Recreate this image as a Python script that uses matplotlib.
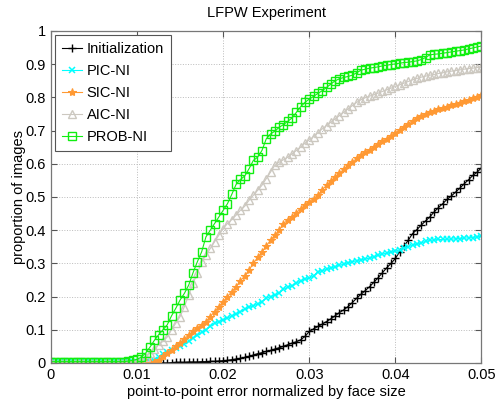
import numpy as np
import matplotlib
matplotlib.use("Agg")
import matplotlib.pyplot as plt
from matplotlib.ticker import FuncFormatter

plt.rcParams["font.family"] = ["Liberation Sans", "DejaVu Sans"]

# error thresholds: 0 .. 0.05 in steps of 0.0005
err = np.arange(101) * 0.0005

init = [0.0] * 28 + [
    0.001, 0.002, 0.002, 0.002, 0.003, 0.003, 0.003, 0.004, 0.004, 0.005,
    0.005, 0.006, 0.007, 0.008, 0.010, 0.012, 0.014, 0.017, 0.020, 0.024,
    0.028, 0.031, 0.035, 0.038, 0.042, 0.046, 0.050, 0.055, 0.060, 0.064,
    0.070, 0.080, 0.095, 0.103, 0.110, 0.117, 0.125, 0.133, 0.142, 0.152,
    0.160, 0.170, 0.182, 0.195, 0.207, 0.218, 0.230, 0.243, 0.257, 0.272,
    0.287, 0.300, 0.315, 0.335, 0.352, 0.370, 0.390, 0.402, 0.415, 0.428,
    0.440, 0.455, 0.468, 0.480, 0.493, 0.503, 0.515, 0.527, 0.540, 0.552,
    0.565, 0.575, 0.588]

pic_ni = [0.002] * 24 + [
    0.008, 0.018, 0.026, 0.032, 0.038, 0.044, 0.050, 0.057, 0.065, 0.075,
    0.083, 0.092, 0.100, 0.110, 0.120, 0.125, 0.130, 0.135, 0.142, 0.148,
    0.155, 0.162, 0.168, 0.172, 0.178, 0.185, 0.195, 0.200, 0.205, 0.210,
    0.222, 0.228, 0.233, 0.240, 0.248, 0.252, 0.256, 0.262, 0.275, 0.278,
    0.282, 0.286, 0.290, 0.294, 0.298, 0.302, 0.305, 0.308, 0.311, 0.313,
    0.316, 0.320, 0.324, 0.328, 0.331, 0.334, 0.337, 0.341, 0.345, 0.350,
    0.355, 0.358, 0.362, 0.366, 0.369, 0.371, 0.372, 0.372, 0.373, 0.373,
    0.374, 0.375, 0.376, 0.377, 0.378, 0.380, 0.382]

sic_ni = [0.002] * 24 + [
    0.004, 0.010, 0.020, 0.030, 0.040, 0.050, 0.060, 0.072, 0.085, 0.095,
    0.105, 0.115, 0.125, 0.140, 0.155, 0.170, 0.185, 0.200, 0.215, 0.230,
    0.248, 0.262, 0.280, 0.300, 0.318, 0.335, 0.352, 0.370, 0.385, 0.400,
    0.420, 0.430, 0.440, 0.452, 0.465, 0.475, 0.485, 0.495, 0.505, 0.522,
    0.535, 0.548, 0.560, 0.572, 0.583, 0.595, 0.605, 0.616, 0.626, 0.635,
    0.643, 0.651, 0.660, 0.668, 0.676, 0.684, 0.692, 0.702, 0.712, 0.721,
    0.730, 0.738, 0.745, 0.750, 0.756, 0.760, 0.764, 0.768, 0.772, 0.776,
    0.780, 0.784, 0.788, 0.793, 0.798, 0.802, 0.806]

aic_ni = [0.003] * 21 + [
    0.008, 0.018, 0.030, 0.043, 0.055, 0.065, 0.078, 0.100, 0.120, 0.140,
    0.170, 0.205, 0.240, 0.270, 0.305, 0.325, 0.345, 0.365, 0.385, 0.405,
    0.420, 0.432, 0.445, 0.460, 0.472, 0.490, 0.505, 0.520, 0.535, 0.555,
    0.575, 0.595, 0.605, 0.612, 0.620, 0.630, 0.640, 0.650, 0.662, 0.672,
    0.682, 0.693, 0.705, 0.715, 0.725, 0.735, 0.745, 0.755, 0.765, 0.775,
    0.785, 0.793, 0.799, 0.804, 0.808, 0.813, 0.818, 0.823, 0.828, 0.833,
    0.838, 0.843, 0.848, 0.853, 0.857, 0.861, 0.864, 0.867, 0.869, 0.872,
    0.874, 0.877, 0.879, 0.881, 0.883, 0.885, 0.887, 0.888, 0.890, 0.891]

prob_ni = [0.004] * 18 + [
    0.006, 0.008, 0.011, 0.018, 0.030, 0.048, 0.068, 0.085, 0.100, 0.115,
    0.142, 0.165, 0.190, 0.210, 0.235, 0.272, 0.305, 0.335, 0.380, 0.400,
    0.420, 0.440, 0.460, 0.480, 0.508, 0.538, 0.553, 0.563, 0.585, 0.610,
    0.620, 0.640, 0.675, 0.690, 0.698, 0.710, 0.718, 0.728, 0.738, 0.755,
    0.772, 0.785, 0.795, 0.803, 0.812, 0.820, 0.830, 0.840, 0.850, 0.856,
    0.860, 0.863, 0.867, 0.874, 0.882, 0.885, 0.888, 0.890, 0.892, 0.895,
    0.897, 0.899, 0.901, 0.903, 0.905, 0.906, 0.908, 0.910, 0.914, 0.920,
    0.928, 0.930, 0.931, 0.933, 0.935, 0.937, 0.939, 0.941, 0.943, 0.946,
    0.949, 0.952, 0.955]

fig = plt.figure(figsize=(4.95, 4.0), dpi=100)
ax = fig.add_axes([0.103, 0.0925, 0.8697, 0.83])

ax.plot(err, init, color="black", marker="+", ms=6, mew=1.0, lw=0.8, label="Initialization")
ax.plot(err, pic_ni, color="#00FFFF", marker="x", ms=4.5, mew=1.1, lw=0.8, label="PIC-NI")
ax.plot(err, sic_ni, color="#FF9933", marker="*", ms=6, mew=0.8, lw=0.8, label="SIC-NI")
ax.plot(err, aic_ni, color="#CCC8C0", marker="^", ms=6, mfc="none", mew=1.0, lw=0.8, label="AIC-NI")
ax.plot(err, prob_ni, color="#11EE11", marker="s", ms=5.5, mfc="none", mew=1.0, lw=0.8, label="PROB-NI")

ax.set_xlim(0, 0.05)
ax.set_ylim(0, 1)
ax.set_xticks(np.arange(0, 0.051, 0.01))
ax.set_yticks(np.arange(0, 1.01, 0.1))
ax.xaxis.set_major_formatter(FuncFormatter(lambda v, p: "%g" % round(v, 3)))
ax.yaxis.set_major_formatter(FuncFormatter(lambda v, p: "%g" % round(v, 2)))
ax.tick_params(direction="in", top=True, right=True, length=4, width=0.8,
               labelsize=10.5, color="#555555")
for s in ax.spines.values():
    s.set_color("#777777")
    s.set_linewidth(0.9)
ax.grid(True, linestyle=":", color="#bbbbbb", linewidth=0.7)

ax.set_title("LFPW Experiment", fontsize=10.5, pad=10)
ax.set_xlabel("point-to-point error normalized by face size", fontsize=10.5, labelpad=2)
ax.set_ylabel("proportion of images", fontsize=10.5, labelpad=0)

leg = ax.legend(loc="upper left", fontsize=10.5, numpoints=1, handlelength=1.4,
                handletextpad=0.3, borderpad=0.45, labelspacing=0.55,
                borderaxespad=0.3, fancybox=False, framealpha=1)
leg.get_frame().set_edgecolor("#555555")
leg.get_frame().set_linewidth(0.8)

fig.savefig("out.png", dpi=100)
